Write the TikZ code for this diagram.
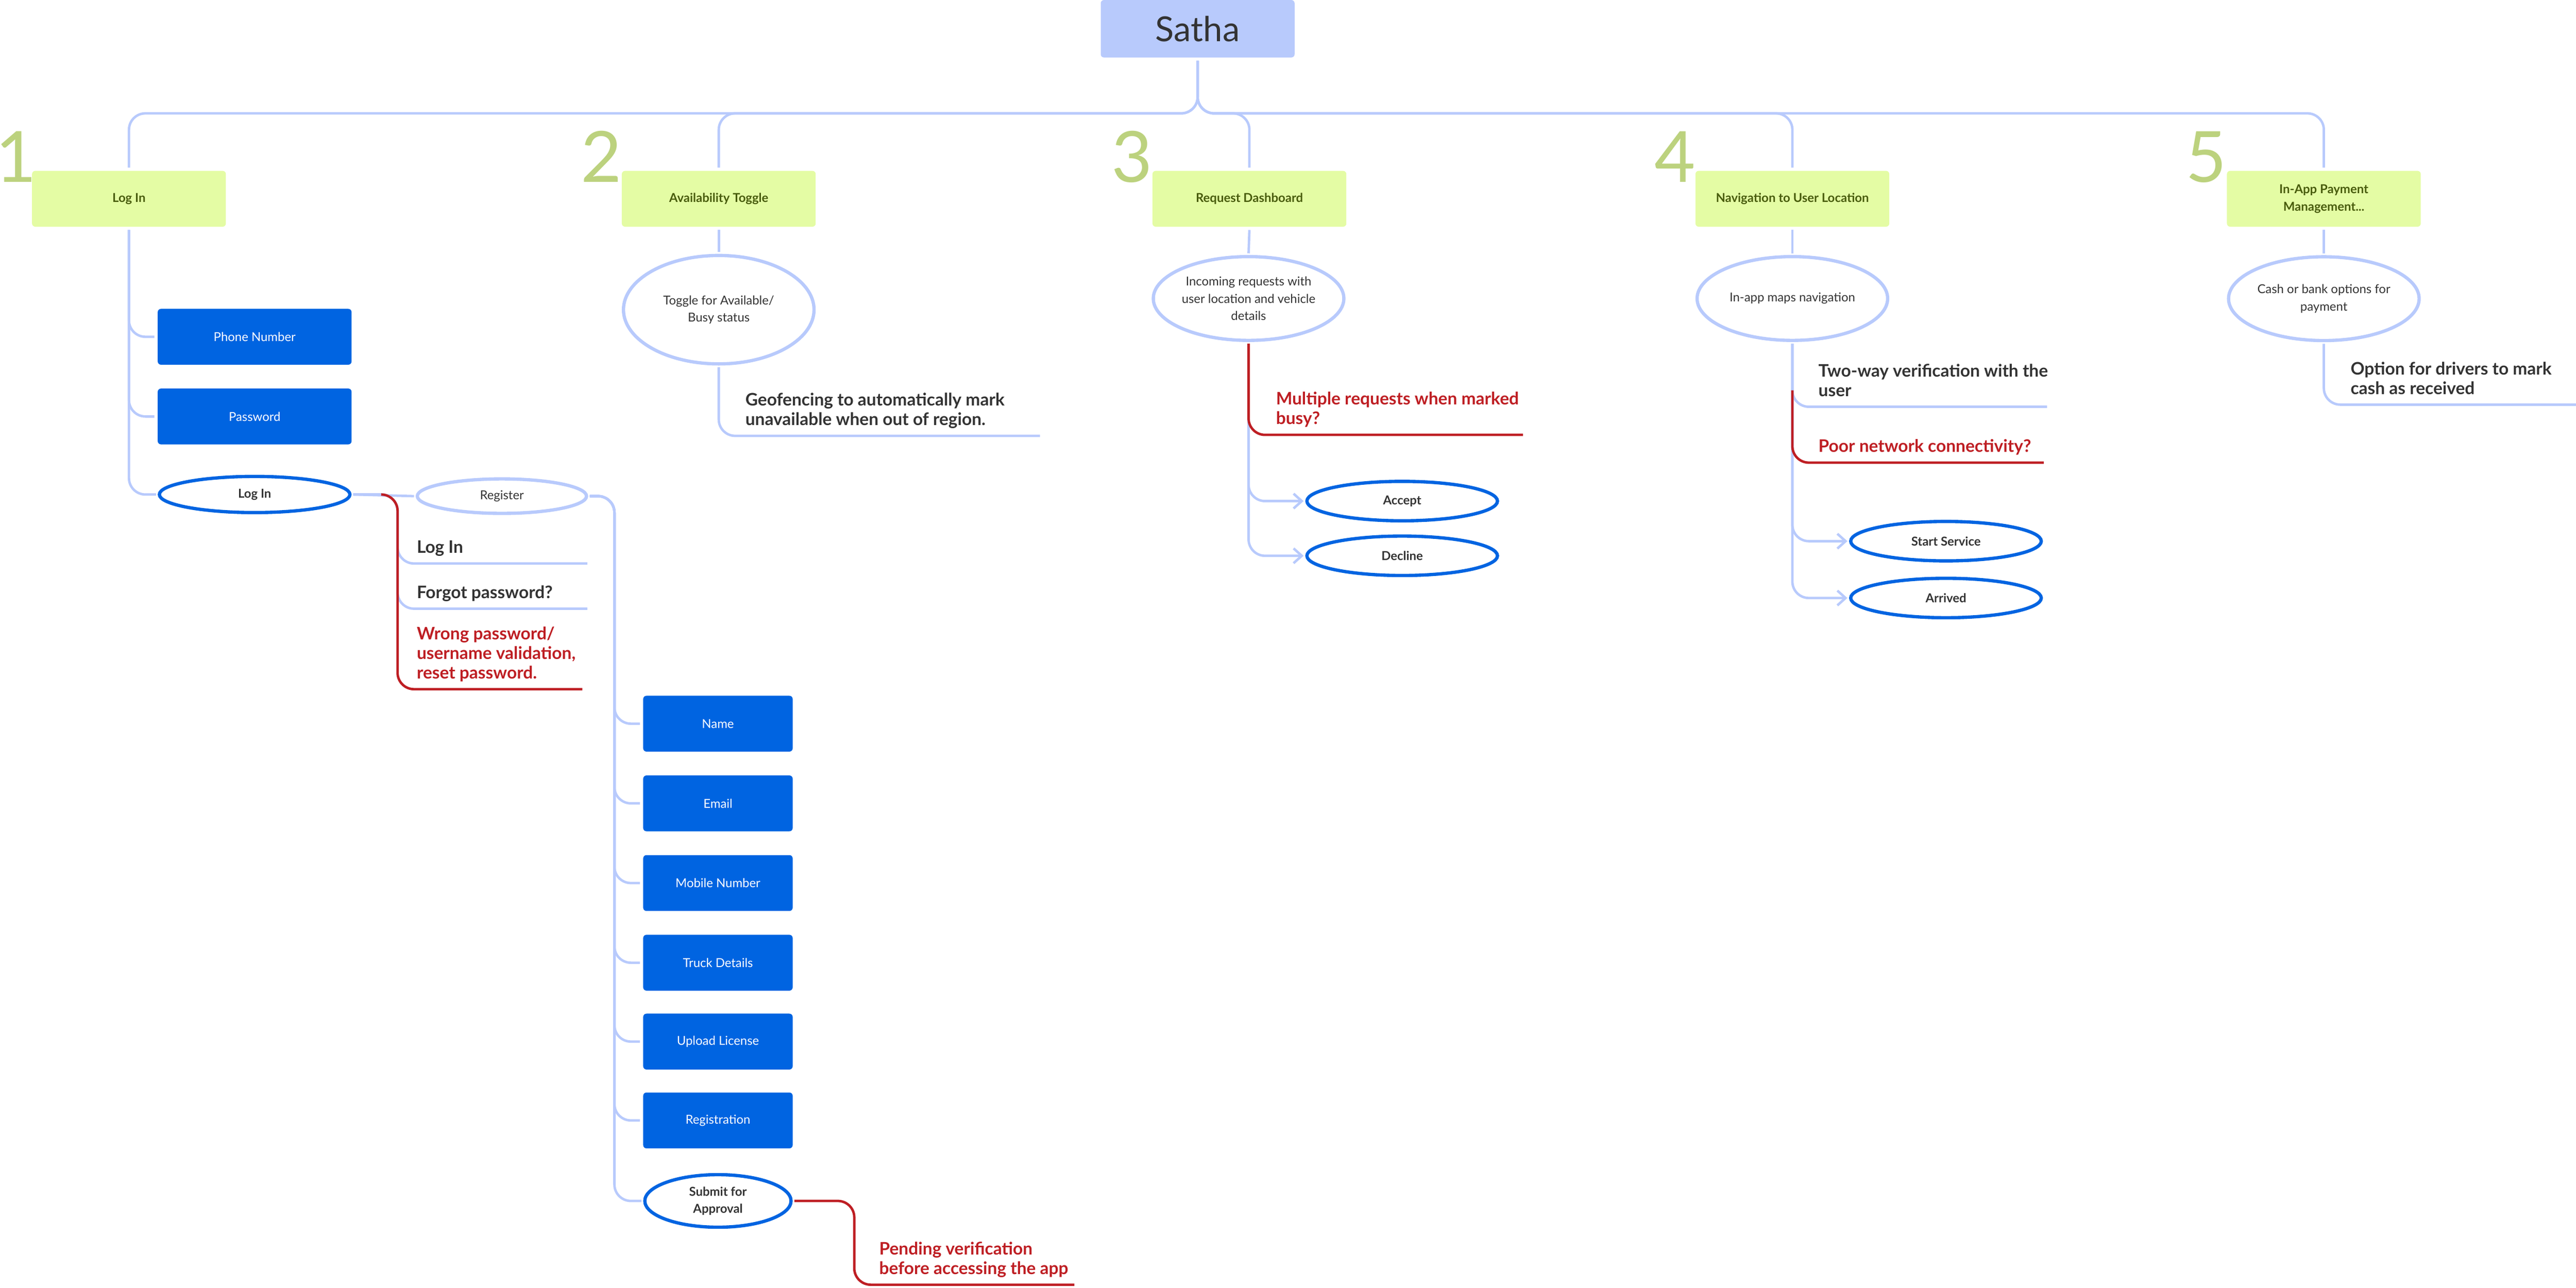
\documentclass[tikz,border=0pt]{standalone}
\usepackage{fontspec}
\setmainfont{Lato}
\usetikzlibrary{positioning,arrows.meta,shapes.geometric}

\definecolor{linkblue}{RGB}{184,202,252}
\definecolor{btnblue}{RGB}{0,100,225}
\definecolor{riskred}{RGB}{190,30,35}
\definecolor{limebox}{RGB}{228,252,164}
\definecolor{limetext}{RGB}{72,92,12}
\definecolor{numgreen}{RGB}{188,210,126}
\definecolor{inkgray}{RGB}{51,51,51}

\newcommand{\mapsmall}{\fontsize{7.5}{10.5}\selectfont}
\newcommand{\mapnote}{\fontsize{10.5}{12}\selectfont}

\tikzset{
  root/.style={rectangle, rounded corners=2pt, fill=linkblue, minimum width=118pt, minimum height=35pt, text=inkgray, font=\fontsize{21}{25}\selectfont, outer sep=2pt},
  feature/.style={rectangle, rounded corners=2pt, fill=limebox, minimum width=118pt, minimum height=34pt, text=limetext, font=\mapsmall\bfseries, align=center, outer sep=2pt},
  num/.style={text=numgreen, font=\fontsize{43}{43}\selectfont, inner sep=0pt, anchor=base},
  field/.style={rectangle, rounded corners=2pt, fill=btnblue, minimum width=118pt, minimum height=34pt, text=white, font=\mapsmall, outer sep=2pt},
  action/.style={ellipse, draw=btnblue, line width=2pt, minimum width=116pt, minimum height=22pt, inner sep=0pt, text=inkgray, font=\mapsmall\bfseries, align=center, outer sep=2pt},
  detail/.style={ellipse, draw=linkblue, line width=2pt, minimum width=116pt, minimum height=51pt, inner sep=0pt, text=inkgray, font=\mapsmall, align=center, outer sep=2pt},
  note/.style={anchor=south west, inner xsep=0pt, inner ysep=2.5pt, align=left, text=inkgray, font=\mapnote\bfseries},
  risknote/.style={note, text=riskred},
  link/.style={draw=linkblue, line width=1.5pt, rounded corners=10pt},
  risk/.style={draw=riskred, line width=1.5pt, rounded corners=10pt},
  pick/.style={link, -{Straight Barb[length=5pt,width=9pt]}}
}

\begin{document}
\begin{tikzpicture}[x=1pt,y=-1pt]
\useasboundingbox (0,0) rectangle (1568,783.9);

\node[root] (satha) at (729,17.5) {Satha};
\coordinate (bus) at (729,69);

\node[feature] (login) at (78.5,121) {Log In};
\node[feature] (avail) at (437.5,121) {Availability Toggle};
\node[feature] (req) at (760.5,121) {Request Dashboard};
\node[feature] (nav) at (1091,121) {Navigation to User Location};
\node[feature] (pay) at (1414.5,121) {In-App Payment\\Management...};

\node[num, anchor=base west] (n1) at (0,111) {\kern-3pt 1};
\node[num] (n2) at (366,111) {2};
\node[num] (n3) at (689,111) {3};
\node[num] (n4) at (1019.5,111) {4};
\node[num] (n5) at (1343,111) {5};

\draw[link] (satha.south) |- (login.north |- bus) -- (login.north);
\draw[link] (satha.south) |- (avail.north |- bus) -- (avail.north);
\draw[link] (satha.south) |- (req.north |- bus) -- (req.north);
\draw[link] (satha.south) |- (nav.north |- bus) -- (nav.north);
\draw[link] (satha.south) |- (pay.north |- bus) -- (pay.north);

\node[field] (phone) at (155,205) {Phone Number};
\node[field] (pass) at (155,253.5) {Password};
\node[action] (signin) at (155,301) {Log In};
\node[detail, minimum width=103pt, minimum height=21pt] (register) at (305.5,302) {Register};
\coordinate (fork) at (242,301);
\node[note] (relog) at (253.5,343) {Log In\strut};
\node[note] (forgot) at (253.5,370.5) {Forgot password?\strut};
\node[risknote] (wrong) at (253.5,419.5) {Wrong password/\\username validation,\\reset password.\strut};

\draw[link] (login.south) |- (phone.west);
\draw[link] (login.south) |- (pass.west);
\draw[link] (login.south) |- (signin.west);
\draw[link] (signin.east) -- (register.west);
\draw[link] (signin.east) -| (fork |- relog.south) -- ([xshift=104pt]relog.south west);
\draw[link] (signin.east) -| (fork |- forgot.south) -- ([xshift=104pt]forgot.south west);
\draw[risk] ([xshift=-10pt]fork) -| (fork |- wrong.south) -- ([xshift=101pt]wrong.south west);

\node[field, minimum width=91pt] (fname) at (437,440.5) {Name};
\node[field, minimum width=91pt] (femail) at (437,489) {Email};
\node[field, minimum width=91pt] (fmobile) at (437,537.5) {Mobile Number};
\node[field, minimum width=91pt] (ftruck) at (437,586) {Truck Details};
\node[field, minimum width=91pt] (flicense) at (437,634) {Upload License};
\node[field, minimum width=91pt] (fregistration) at (437,682) {Registration};
\node[action, minimum width=89pt, minimum height=32pt] (submit) at (437,731) {Submit for\\Approval};
\coordinate (regbus) at (374,302);
\coordinate (subfork) at (520,731);
\node[risknote] (pending) at (535,782) {Pending verification\\before accessing the app\strut};

\draw[link] (register.east) -- (regbus) |- (fname.west);
\draw[link] (register.east) -- (regbus) |- (femail.west);
\draw[link] (register.east) -- (regbus) |- (fmobile.west);
\draw[link] (register.east) -- (regbus) |- (ftruck.west);
\draw[link] (register.east) -- (regbus) |- (flicense.west);
\draw[link] (register.east) -- (regbus) |- (fregistration.west);
\draw[link] (register.east) -- (regbus) |- (submit.west);
\draw[risk] (submit.east) -| (subfork |- pending.south) -- ([xshift=119pt]pending.south west);

\node[detail, minimum height=66pt] (toggle) at (437.5,188.5) {Toggle for Available/\\Busy status};
\node[note] (geo) at (453.5,265.3) {Geofencing to automatically mark\\unavailable when out of region.\strut};
\draw[link] (avail.south) -- (toggle.north);
\draw[link] (toggle.south) |- ([xshift=179.5pt]geo.south west);

\node[detail] (incoming) at (760,181.7) {Incoming requests with\\user location and vehicle\\details};
\node[risknote] (multi) at (776.5,264.7) {Multiple requests when marked\\busy?\strut};
\node[action, minimum height=24pt] (accept) at (853.5,305) {Accept};
\node[action, minimum height=24pt] (decline) at (853.5,338.3) {Decline};
\draw[link] (req.south) -- (incoming.north);
\draw[pick] (incoming.south) |- (accept.west);
\draw[pick] (incoming.south) |- (decline.west);
\draw[risk] (incoming.south) |- ([xshift=150.5pt]multi.south west);

\node[detail] (maps) at (1091,181.7) {In-app maps navigation};
\node[note] (twoway) at (1106.7,247.6) {Two-way verification with the\\user\strut};
\node[risknote] (network) at (1106.7,281.6) {Poor network connectivity?\strut};
\node[action, minimum height=24pt] (start) at (1184.5,329.4) {Start Service};
\node[action, minimum height=24pt] (arrived) at (1184.5,364) {Arrived};
\coordinate (vfork) at (maps.south |- twoway.south);
\draw[link] (nav.south) -- (maps.north);
\draw[link] (maps.south) |- ([xshift=139.3pt]twoway.south west);
\draw[pick] (maps.south) |- (start.west);
\draw[pick] (maps.south) |- (arrived.west);
\draw[risk] ([yshift=10pt]vfork) |- ([xshift=137.3pt]network.south west);

\node[detail] (cash) at (1414.5,181.8) {Cash or bank options for\\payment};
\node[note] (mark) at (1430.6,246.3) {Option for drivers to mark\\cash as received\strut};
\draw[link] (pay.south) -- (cash.north);
\draw[link] (cash.south) |- ([xshift=140pt]mark.south west);
\end{tikzpicture}
\end{document}
